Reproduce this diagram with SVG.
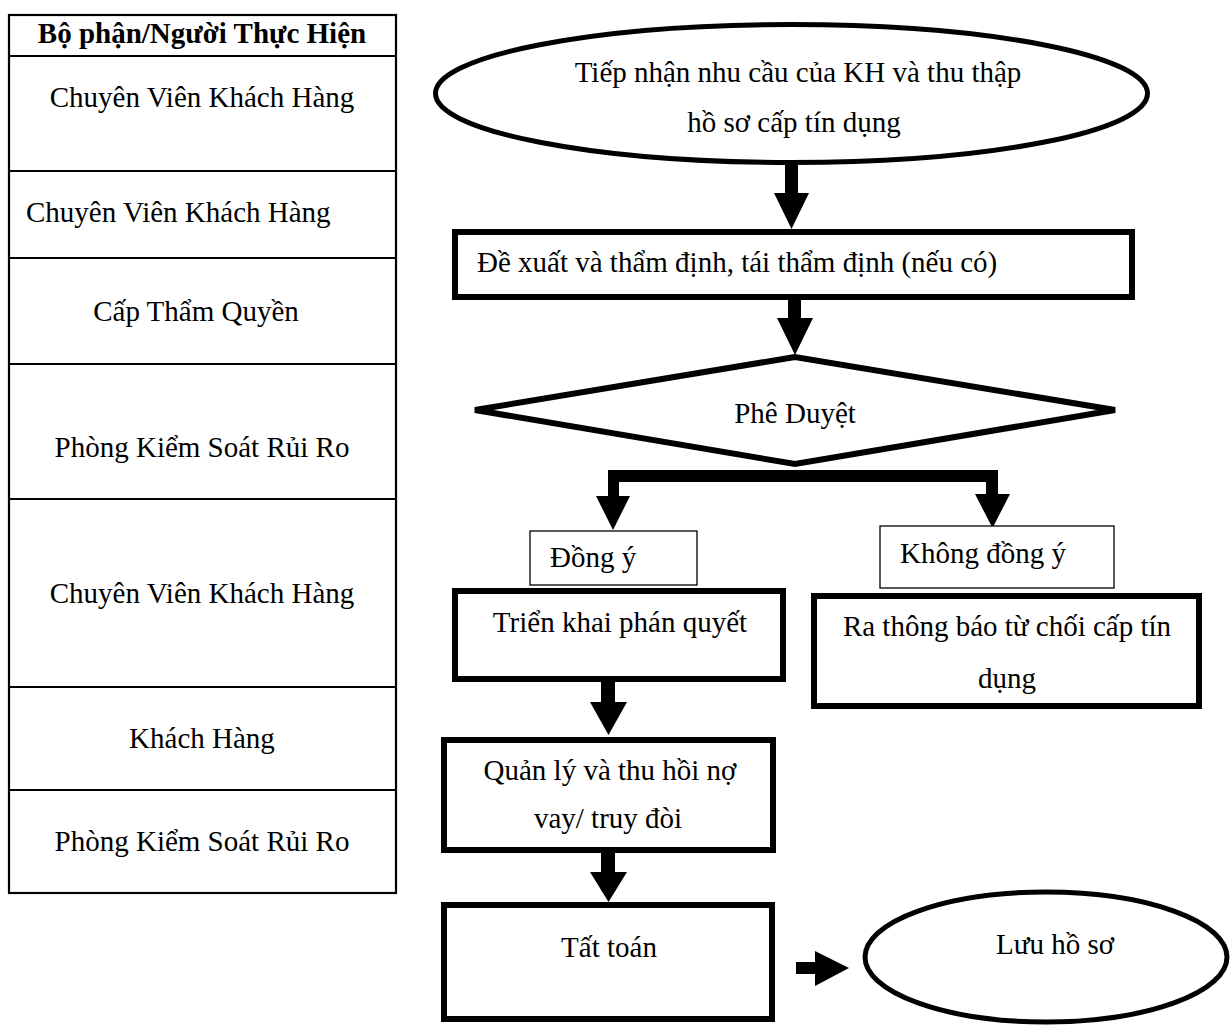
<svg xmlns="http://www.w3.org/2000/svg" width="1230" height="1028" viewBox="0 0 1230 1028">
  <style>
    text { font-family: "Liberation Serif", "Times New Roman", serif; font-size: 29px; fill: #000; }
    .mid { text-anchor: middle; }
    .hdr { font-weight: bold; }
    .grid { stroke: #000; stroke-width: 2.2; fill: none; }
    .box { fill: #fff; stroke: #000; stroke-width: 6; }
    .thin { fill: #fff; stroke: #000; stroke-width: 1.3; }
    .oval { fill: #fff; stroke: #000; stroke-width: 5; }
    .arrow { fill: #000; stroke: none; }
  </style>

  <rect width="1230" height="1028" fill="#fff"/>

  <!-- responsibility table -->
  <g id="lanes">
    <rect class="grid" x="9" y="15" width="387" height="878"/>
    <path class="grid" d="M9 56H396M9 171H396M9 258H396M9 364H396M9 499H396M9 687H396M9 790H396"/>
    <text class="hdr mid" x="202" y="43">Bộ phận/Người Thực Hiện</text>
    <text class="mid" x="202" y="107">Chuyên Viên Khách Hàng</text>
    <text x="26" y="222">Chuyên Viên Khách Hàng</text>
    <text class="mid" x="196" y="321">Cấp Thẩm Quyền</text>
    <text class="mid" x="202" y="457">Phòng Kiểm Soát Rủi Ro</text>
    <text class="mid" x="202" y="603">Chuyên Viên Khách Hàng</text>
    <text class="mid" x="202" y="748">Khách Hàng</text>
    <text class="mid" x="202" y="851">Phòng Kiểm Soát Rủi Ro</text>
  </g>

  <!-- connectors -->
  <g id="connectors">
    <polygon class="arrow" points="785,165 798,165 798,193 809,193 791.5,229 774,193 785,193"/>
    <polygon class="arrow" points="788,300 801,300 801,318 813,318 795,355 777,318 788,318"/>
    <polygon class="arrow" points="608,470 998,470 998,494 1010,494 992.5,528 975,494 986,494 986,482 619,482 619,496 630,496 613,530 596,496 608,496"/>
    <polygon class="arrow" points="601,682 615,682 615,702 627,702 608.5,735 590,702 601,702"/>
    <polygon class="arrow" points="601,853 615,853 615,872 627,872 608.5,902 590,872 601,872"/>
    <polygon class="arrow" points="796,962 815,962 815,951 849,968 815,986 815,974 796,974"/>
  </g>

  <!-- flow nodes -->
  <g id="n-receive">
    <ellipse class="oval" cx="791.5" cy="93.5" rx="356" ry="69"/>
    <text class="mid" x="798" y="82">Tiếp nhận nhu cầu của KH và thu thập</text>
    <text class="mid" x="794" y="132">hồ sơ cấp tín dụng</text>
  </g>

  <g id="n-propose">
    <rect class="box" x="455" y="232" width="677" height="65"/>
    <text x="477" y="272">Đề xuất và thẩm định, tái thẩm định (nếu có)</text>
  </g>

  <g id="n-approve">
    <polygon class="box" points="795,357 475,410 795,464 1115,410"/>
    <text class="mid" x="795" y="423">Phê Duyệt</text>
  </g>

  <g id="n-yes">
    <rect class="thin" x="530" y="531" width="167" height="54"/>
    <text x="550" y="567">Đồng ý</text>
  </g>

  <g id="n-no">
    <rect class="thin" x="880" y="526" width="234" height="62"/>
    <text x="900" y="563">Không đồng ý</text>
  </g>

  <g id="n-execute">
    <rect class="box" x="455" y="591" width="328" height="88"/>
    <text class="mid" x="620" y="632">Triển khai phán quyết</text>
  </g>

  <g id="n-reject">
    <rect class="box" x="814" y="596" width="385" height="110"/>
    <text class="mid" x="1007" y="636">Ra thông báo từ chối cấp tín</text>
    <text class="mid" x="1007" y="688">dụng</text>
  </g>

  <g id="n-manage">
    <rect class="box" x="444" y="740" width="329" height="110"/>
    <text class="mid" x="610" y="780">Quản lý và thu hồi nợ</text>
    <text class="mid" x="608" y="828">vay/ truy đòi</text>
  </g>

  <g id="n-settle">
    <rect class="box" x="444" y="905" width="328" height="114"/>
    <text class="mid" x="609" y="957">Tất toán</text>
  </g>

  <g id="n-archive">
    <ellipse class="oval" cx="1046" cy="957" rx="181" ry="65"/>
    <text class="mid" x="1055" y="954">Lưu hồ sơ</text>
  </g>
</svg>
